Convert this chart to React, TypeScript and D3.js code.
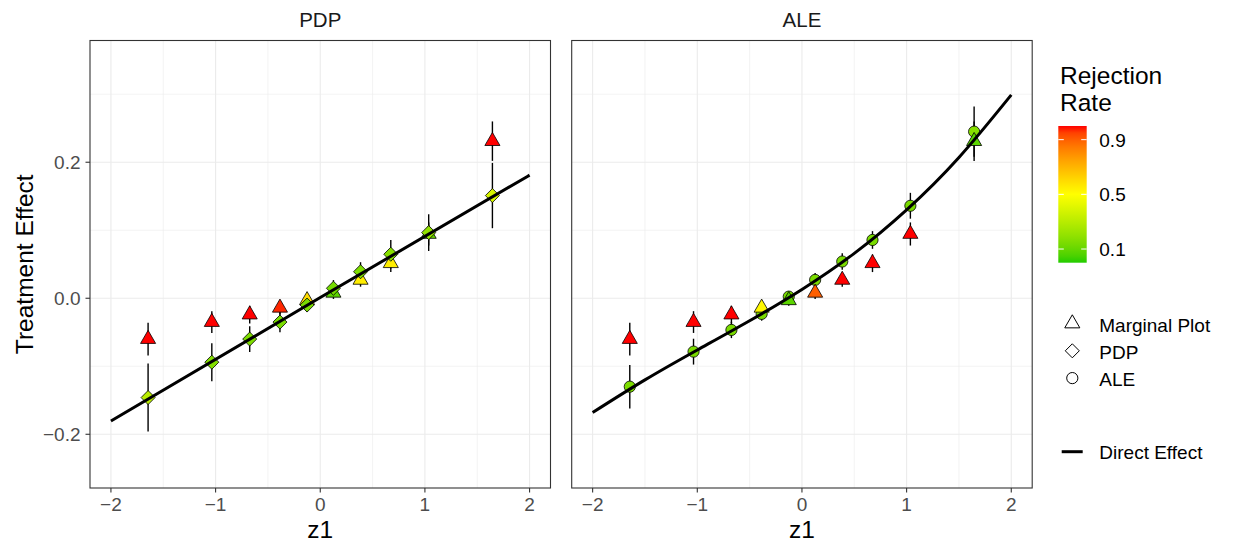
import React from 'react';
import * as d3 from 'd3';

// ---------- data ----------
const Z = [-1.645, -1.036, -0.674, -0.385, -0.126, 0.126, 0.385, 0.674, 1.036, 1.645];

const MARGINAL = [-0.06, -0.035, -0.024, -0.014, -0.003, 0.008, 0.027, 0.0515, 0.0945, 0.231];
const MARGINAL_ERR = [0.024, 0.016, 0.013, 0.01, 0.008, 0.009, 0.01, 0.013, 0.017, 0.029];

const PDP = [-0.146, -0.094, -0.06, -0.035, -0.01, 0.0147, 0.039, 0.0647, 0.0965, 0.151];
const PDP_ERR = [0.05, 0.028, 0.019, 0.015, 0.01, 0.012, 0.014, 0.021, 0.027, 0.048];

const ALE = [-0.13, -0.0785, -0.0466, -0.023, 0.0024, 0.027, 0.054, 0.0857, 0.136, 0.245];
const ALE_ERR = [0.032, 0.019, 0.012, 0.01, 0.008, 0.01, 0.012, 0.013, 0.019, 0.037];

const RATE_MARGINAL_VS_PDP = [1, 1, 1, 0.98, 0.6, 0.08, 0.55, 0.55, 0.1, 1];
const RATE_PDP = [0.3, 0.16, 0.15, 0.14, 0.14, 0.13, 0.15, 0.17, 0.2, 0.38];
const RATE_MARGINAL_VS_ALE = [1, 1, 1, 0.52, 0.08, 0.9, 1, 1, 1, 0.08];
const RATE_ALE = [0.15, 0.14, 0.14, 0.14, 0.14, 0.14, 0.14, 0.14, 0.14, 0.17];

const DIRECT_PDP_Z = [-2, 0, 2];
const DIRECT_PDP = [-0.1805, 0.001, 0.181];
const DIRECT_ALE_Z = [-2, -1.5, -1, -0.5, 0, 0.5, 1, 1.5, 2];
const DIRECT_ALE = [-0.168, -0.12, -0.076, -0.033, 0.013, 0.066, 0.13, 0.207, 0.299];

const X_TICKS = [-2, -1, 0, 1, 2];
const X_MINOR = [-1.5, -0.5, 0.5, 1.5];
const Y_TICKS = [-0.2, 0, 0.2];
const Y_MINOR = [-0.1, 0.1, 0.3];
const RATE_TICKS = [0.1, 0.5, 0.9];
const RATE_DOMAIN = [0, 0.5, 1];
const RATE_COLORS = ['#22cc00', '#ffff00', '#ff0000'];

const SHAPE_LEGEND = [
  { shape: 'triangle', label: 'Marginal Plot' },
  { shape: 'diamond', label: 'PDP' },
  { shape: 'circle', label: 'ALE' },
];

// ---------- layout ----------
const W = 1233;
const H = 548;
const FONT = '"Liberation Sans", Arial, Helvetica, sans-serif';
const PY0 = 40.5;
const PY1 = 488;
const R = 5.6;

const yScale = d3.scaleLinear().domain([-0.279, 0.379]).range([PY1, PY0]);
const rateColor = d3
  .scaleLinear<string>()
  .domain(RATE_DOMAIN)
  .range(RATE_COLORS)
  .interpolate(d3.interpolateLab);

function fmtTick(v: number, digits: number) {
  const s = v.toFixed(digits);
  return s.replace('-', '\u2212');
}

function shapePath(shape: string, cx: number, cy: number) {
  if (shape === 'triangle') {
    const r = 1.5551 * R;
    const xc = 1.3468 * R;
    const yc = 0.7776 * R;
    return `M${cx},${cy - r}L${cx + xc},${cy + yc}L${cx - xc},${cy + yc}Z`;
  }
  if (shape === 'diamond') {
    const d = 1.2533 * R;
    return `M${cx},${cy - d}L${cx + d},${cy}L${cx},${cy + d}L${cx - d},${cy}Z`;
  }
  return `M${cx - R},${cy}a${R},${R} 0 1,0 ${2 * R},0a${R},${R} 0 1,0 ${-2 * R},0Z`;
}

type PanelDef = {
  title: string;
  x0: number;
  x1: number;
  est: number[];
  err: number[];
  rate: number[];
  shape: string;
  mRate: number[];
  lineZ: number[];
  lineY: number[];
  estFirst: boolean;
  showY: boolean;
};

const PANELS: PanelDef[] = [
  {
    title: 'PDP', x0: 90, x1: 550.5, est: PDP, err: PDP_ERR, rate: RATE_PDP, shape: 'diamond',
    mRate: RATE_MARGINAL_VS_PDP, lineZ: DIRECT_PDP_Z, lineY: DIRECT_PDP, estFirst: false, showY: true,
  },
  {
    title: 'ALE', x0: 571.7, x1: 1032.2, est: ALE, err: ALE_ERR, rate: RATE_ALE, shape: 'circle',
    mRate: RATE_MARGINAL_VS_ALE, lineZ: DIRECT_ALE_Z, lineY: DIRECT_ALE, estFirst: true, showY: false,
  },
];

function Panel({ p }: { p: PanelDef }) {
  const x = d3.scaleLinear().domain([-2.2, 2.2]).range([p.x0, p.x1]);
  const line = d3
    .line<number>()
    .x((_, i) => x(p.lineZ[i]))
    .y((d) => yScale(d))
    .curve(d3.curveNatural);

  const estLayer = (
    <g key="est">
      {Z.map((z, i) => (
        <path key={i} d={shapePath(p.shape, x(z), yScale(p.est[i]))} fill={rateColor(p.rate[i])} stroke="#000" strokeWidth={0.8} />
      ))}
    </g>
  );
  const margLayer = (
    <g key="marg">
      {Z.map((z, i) => (
        <path key={i} d={shapePath('triangle', x(z), yScale(MARGINAL[i]))} fill={rateColor(p.mRate[i])} stroke="#000" strokeWidth={0.8} />
      ))}
    </g>
  );

  return (
    <g>
      <rect x={p.x0} y={PY0} width={p.x1 - p.x0} height={PY1 - PY0} fill="#fff" />
      {X_MINOR.map((v) => (
        <line key={'xm' + v} x1={x(v)} x2={x(v)} y1={PY0} y2={PY1} stroke="#ebebeb" strokeWidth={0.6} />
      ))}
      {Y_MINOR.map((v) => (
        <line key={'ym' + v} x1={p.x0} x2={p.x1} y1={yScale(v)} y2={yScale(v)} stroke="#ebebeb" strokeWidth={0.6} />
      ))}
      {X_TICKS.map((v) => (
        <line key={'xg' + v} x1={x(v)} x2={x(v)} y1={PY0} y2={PY1} stroke="#ebebeb" strokeWidth={1.1} />
      ))}
      {Y_TICKS.map((v) => (
        <line key={'yg' + v} x1={p.x0} x2={p.x1} y1={yScale(v)} y2={yScale(v)} stroke="#ebebeb" strokeWidth={1.1} />
      ))}
      {/* error bars */}
      {Z.map((z, i) => (
        <line key={'me' + i} x1={x(z)} x2={x(z)} y1={yScale(MARGINAL[i] - MARGINAL_ERR[i])} y2={yScale(MARGINAL[i] + MARGINAL_ERR[i])} stroke="#000" strokeWidth={1.4} />
      ))}
      {Z.map((z, i) => (
        <line key={'ee' + i} x1={x(z)} x2={x(z)} y1={yScale(p.est[i] - p.err[i])} y2={yScale(p.est[i] + p.err[i])} stroke="#000" strokeWidth={1.4} />
      ))}
      {p.estFirst ? [estLayer, margLayer] : [margLayer, estLayer]}
      <path d={line(p.lineY) || ''} fill="none" stroke="#000" strokeWidth={3} />
      <rect x={p.x0} y={PY0} width={p.x1 - p.x0} height={PY1 - PY0} fill="none" stroke="#333333" strokeWidth={1.1} />
      {/* x axis */}
      {X_TICKS.map((v) => (
        <g key={'xt' + v}>
          <line x1={x(v)} x2={x(v)} y1={PY1} y2={PY1 + 4.5} stroke="#333333" strokeWidth={1.1} />
          <text x={x(v)} y={511} textAnchor="middle" fontSize={19} fill="#4d4d4d" fontFamily={FONT}>
            {fmtTick(v, 0)}
          </text>
        </g>
      ))}
      <text x={(p.x0 + p.x1) / 2} y={537.5} textAnchor="middle" fontSize={24.5} fill="#000" fontFamily={FONT}>
        z1
      </text>
      <text x={(p.x0 + p.x1) / 2} y={27} textAnchor="middle" fontSize={20.5} fill="#1a1a1a" fontFamily={FONT}>
        {p.title}
      </text>
      {p.showY &&
        Y_TICKS.map((v) => (
          <g key={'yt' + v}>
            <line x1={p.x0 - 4.5} x2={p.x0} y1={yScale(v)} y2={yScale(v)} stroke="#333333" strokeWidth={1.1} />
            <text x={80.5} y={yScale(v)} dy="0.36em" textAnchor="end" fontSize={19} fill="#4d4d4d" fontFamily={FONT}>
              {fmtTick(v, 1)}
            </text>
          </g>
        ))}
    </g>
  );
}

function Legend() {
  const bx0 = 1058.3;
  const bx1 = 1086.7;
  const rs = d3.scaleLinear().domain([0, 1]).range([262.7, 126]);
  const stops = d3.range(0, 1.0001, 0.05);
  return (
    <g fontFamily={FONT}>
      <defs>
        <linearGradient id="rateGrad" x1="0" y1="1" x2="0" y2="0">
          {stops.map((t) => (
            <stop key={t} offset={t} stopColor={rateColor(t)} />
          ))}
        </linearGradient>
      </defs>
      <text x={1060} y={84.3} fontSize={24.5} fill="#000">Rejection</text>
      <text x={1060} y={111} fontSize={24.5} fill="#000">Rate</text>
      <rect x={bx0} y={rs(1)} width={bx1 - bx0} height={rs(0) - rs(1)} fill="url(#rateGrad)" />
      {RATE_TICKS.map((t) => (
        <g key={t}>
          <line x1={bx0} x2={bx0 + 5.5} y1={rs(t)} y2={rs(t)} stroke="#fff" strokeWidth={1} />
          <line x1={bx1 - 5.5} x2={bx1} y1={rs(t)} y2={rs(t)} stroke="#fff" strokeWidth={1} />
          <text x={1099.3} y={rs(t)} dy="0.36em" fontSize={19} fill="#000">
            {t.toFixed(1)}
          </text>
        </g>
      ))}
      {SHAPE_LEGEND.map((s, i) => {
        const cy = 323.5 + i * 27.3;
        return (
          <g key={s.label}>
            <path d={shapePath(s.shape, 1072.3, cy)} fill="#fff" stroke="#000" strokeWidth={1} />
            <text x={1099.3} y={cy + 1.5} dy="0.36em" fontSize={19} fill="#000">
              {s.label}
            </text>
          </g>
        );
      })}
      <line x1={1061.7} x2={1082.7} y1={451.7} y2={451.7} stroke="#000" strokeWidth={3} />
      <text x={1099.3} y={452.5} dy="0.36em" fontSize={19} fill="#000">Direct Effect</text>
    </g>
  );
}

export default function App() {
  return (
    <svg width={W} height={H} style={{ position: 'absolute', left: 0, top: 0, background: '#fff' }}>
      <rect width={W} height={H} fill="#fff" />
      {PANELS.map((p) => (
        <Panel key={p.title} p={p} />
      ))}
      <text
        transform={`translate(33,${(PY0 + PY1) / 2}) rotate(-90)`}
        textAnchor="middle"
        fontSize={24.5}
        fill="#000"
        fontFamily={FONT}
      >
        Treatment Effect
      </text>
      <Legend />
    </svg>
  );
}
